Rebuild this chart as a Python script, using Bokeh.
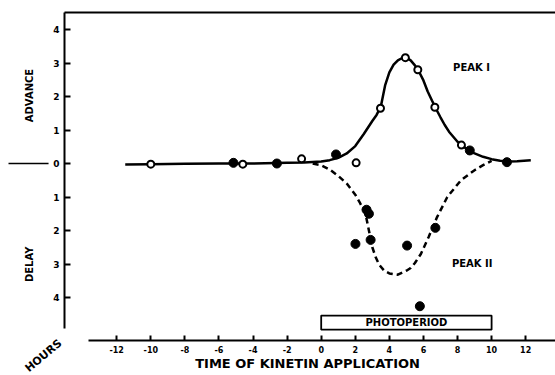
from bokeh.plotting import figure
from bokeh.models import Range1d, LinearAxis, FixedTicker, Label, Arrow
from bokeh.embed import file_html
from bokeh.resources import INLINE
from bokeh.core.properties import value

# ---- data ----
# Peak I (advance) fitted curve
peak1_x = [-11.5, -10, -8, -6, -4, -2, -1, 0, 0.5, 1, 1.5, 2, 2.5, 3, 3.25, 3.5, 3.75, 4, 4.25,
           4.5, 4.75, 5, 5.25, 5.5, 5.75, 6, 6.25, 6.5, 6.75, 7, 7.25, 7.5, 8, 8.5, 9, 9.5,
           10, 10.5, 11, 11.5, 12.3]
peak1_y = [-0.03, -0.02, -0.01, 0.0, 0.0, 0.02, 0.03, 0.06, 0.1, 0.17, 0.3, 0.52, 0.88, 1.27, 1.45,
           1.7, 2.33, 2.72, 2.95, 3.08, 3.15, 3.16, 3.08, 2.93, 2.73, 2.48, 2.15, 1.88, 1.62,
           1.38, 1.15, 0.95, 0.65, 0.45, 0.3, 0.2, 0.13, 0.08, 0.06, 0.07, 0.1]
# Peak II (delay) fitted curve, dashed
peak2_x = [-0.5, 0, 0.5, 1, 1.5, 2, 2.25, 2.6, 2.8, 3.0, 3.2, 3.4, 3.7, 4.0, 4.5, 5.0, 5.25,
           5.5, 5.85, 6.3, 6.8, 7.4, 8.2, 9.0, 9.5, 10.0]
peak2_y = [0.0, -0.05, -0.18, -0.37, -0.6, -0.93, -1.15, -1.5, -2.0, -2.5, -2.8, -3.02, -3.2,
           -3.28, -3.32, -3.2, -3.12, -2.97, -2.7, -2.2, -1.6, -1.0, -0.5, -0.2, -0.05, 0.08]
# observations
open_x = [-10.0, -4.6, -1.15, 2.05, 3.48, 4.94, 5.67, 6.67, 8.23]
open_y = [-0.02, -0.02, 0.14, 0.02, 1.65, 3.16, 2.8, 1.68, 0.55]
filled_x = [-5.15, -2.6, 0.87, 8.72, 10.9, 2.66, 2.8, 2.01, 2.9, 5.04, 6.7, 5.79]
filled_y = [0.02, 0.0, 0.27, 0.39, 0.04, -1.38, -1.5, -2.4, -2.28, -2.45, -1.92, -4.26]
# photoperiod (hours)
photo_start = [0]
photo_end = [10]
# ticks
x_ticks = [-12, -10, -8, -6, -4, -2, 0, 2, 4, 6, 8, 10, 12]
x_tick_labels = ["-12", "-10", "-8", "-6", "-4", "-2", "0", "2", "4", "6", "8", "10", "12"]
y_ticks = [-4, -3, -2, -1, 0, 1, 2, 3, 4]
y_tick_labels = ["4", "3", "2", "1", "0", "1", "2", "3", "4"]

FONT = "DejaVu Sans"

# layout positions (data units of the canvas-wide frame)
X_AXIS_Y = -5.284      # where the time axis is drawn
Y_AXIS_X = -15.06      # where the response axis is drawn
TOP_Y = 4.507          # top rule
X_BOUNDS = (-13.65, 13.75)
Y_BOUNDS = (-4.93, 4.507)

p = figure(width=555, height=375, title=None,
           x_range=Range1d(-18.82, 13.75), y_range=Range1d(-6.328, 4.866),
           x_axis_location=None, y_axis_location=None,
           output_backend="svg", toolbar_location=None, min_border=0)
p.outline_line_color = None
p.grid.visible = False
p.background_fill_color = "white"
p.border_fill_color = "white"

# x axis
xa = LinearAxis(fixed_location=X_AXIS_Y)
xa.ticker = FixedTicker(ticks=x_ticks)
xa.major_label_overrides = {t: l for t, l in zip(x_ticks, x_tick_labels)}
xa.bounds = X_BOUNDS
xa.major_tick_in = 5
xa.major_tick_out = 0
xa.minor_tick_line_color = None
xa.axis_line_width = 2
xa.major_tick_line_width = 2
xa.major_label_standoff = 5
xa.major_label_text_font = FONT
xa.major_label_text_font_style = "bold"
xa.major_label_text_font_size = "8px"
xa.major_label_text_color = "black"
p.add_layout(xa, "below")

# y axis
ya = LinearAxis(fixed_location=Y_AXIS_X)
ya.ticker = FixedTicker(ticks=y_ticks)
ya.major_label_overrides = {t: l for t, l in zip(y_ticks, y_tick_labels)}
ya.bounds = Y_BOUNDS
ya.major_tick_in = 6
ya.major_tick_out = 0
ya.minor_tick_line_color = None
ya.axis_line_width = 2
ya.major_tick_line_width = 2
ya.major_label_standoff = 5
ya.major_label_text_font = FONT
ya.major_label_text_font_style = "bold"
ya.major_label_text_font_size = "9px"
ya.major_label_text_color = "black"
p.add_layout(ya, "left")

# top line
top = LinearAxis(fixed_location=TOP_Y, ticker=FixedTicker(ticks=[]), major_tick_in=0,
                 major_tick_out=0, minor_tick_in=0, minor_tick_out=0,
                 major_label_text_font_size="0px", axis_line_width=2,
                 bounds=(Y_AXIS_X, 13.75))
p.add_layout(top, "above")

# photoperiod box
p.quad(left=photo_start, right=photo_end, top=[-4.54], bottom=[-4.96],
       fill_color="white", line_color="black", line_width=1.8)
p.text(x=[(photo_start[0] + photo_end[0]) / 2], y=[-4.75], text=["PHOTOPERIOD"],
       text_font=value(FONT), text_font_style="bold", text_font_size="10px",
       text_align="center", text_baseline="middle", text_color="black")

# curves
p.line(peak2_x, peak2_y, line_color="black", line_width=2.5, line_dash="6 4")
p.line(peak1_x, peak1_y, line_color="black", line_width=2.5)

# points
p.scatter(open_x, open_y, marker="circle", size=7, fill_color="white",
          line_color="black", line_width=2)
p.scatter(filled_x, filled_y, marker="circle", size=9, fill_color="black",
          line_color="black")

# annotations
def lab(x, y, t, size, angle=0):
    p.add_layout(Label(x=x, y=y, text=t, text_font=FONT, text_font_style="bold",
                       text_font_size=size, text_align="center", text_baseline="middle",
                       angle=angle, angle_units="deg", text_color="black"))

lab(8.82, 2.88, "PEAK I", "10px")
lab(8.86, -2.99, "PEAK II", "10px")
lab(-17.1, 2.03, "ADVANCE", "10px", angle=90)
lab(-17.1, -3.01, "DELAY", "10px", angle=90)
lab(-16.3, -5.74, "HOURS", "11px", angle=40)
lab(-0.8, -5.97, "TIME OF KINETIN APPLICATION", "13px")

p.add_layout(Arrow(end=None, x_start=-18.35, y_start=0, x_end=-16.0, y_end=0,
                   line_color="black", line_width=1.5))

open("out.html", "w").write(file_html(p, INLINE))
